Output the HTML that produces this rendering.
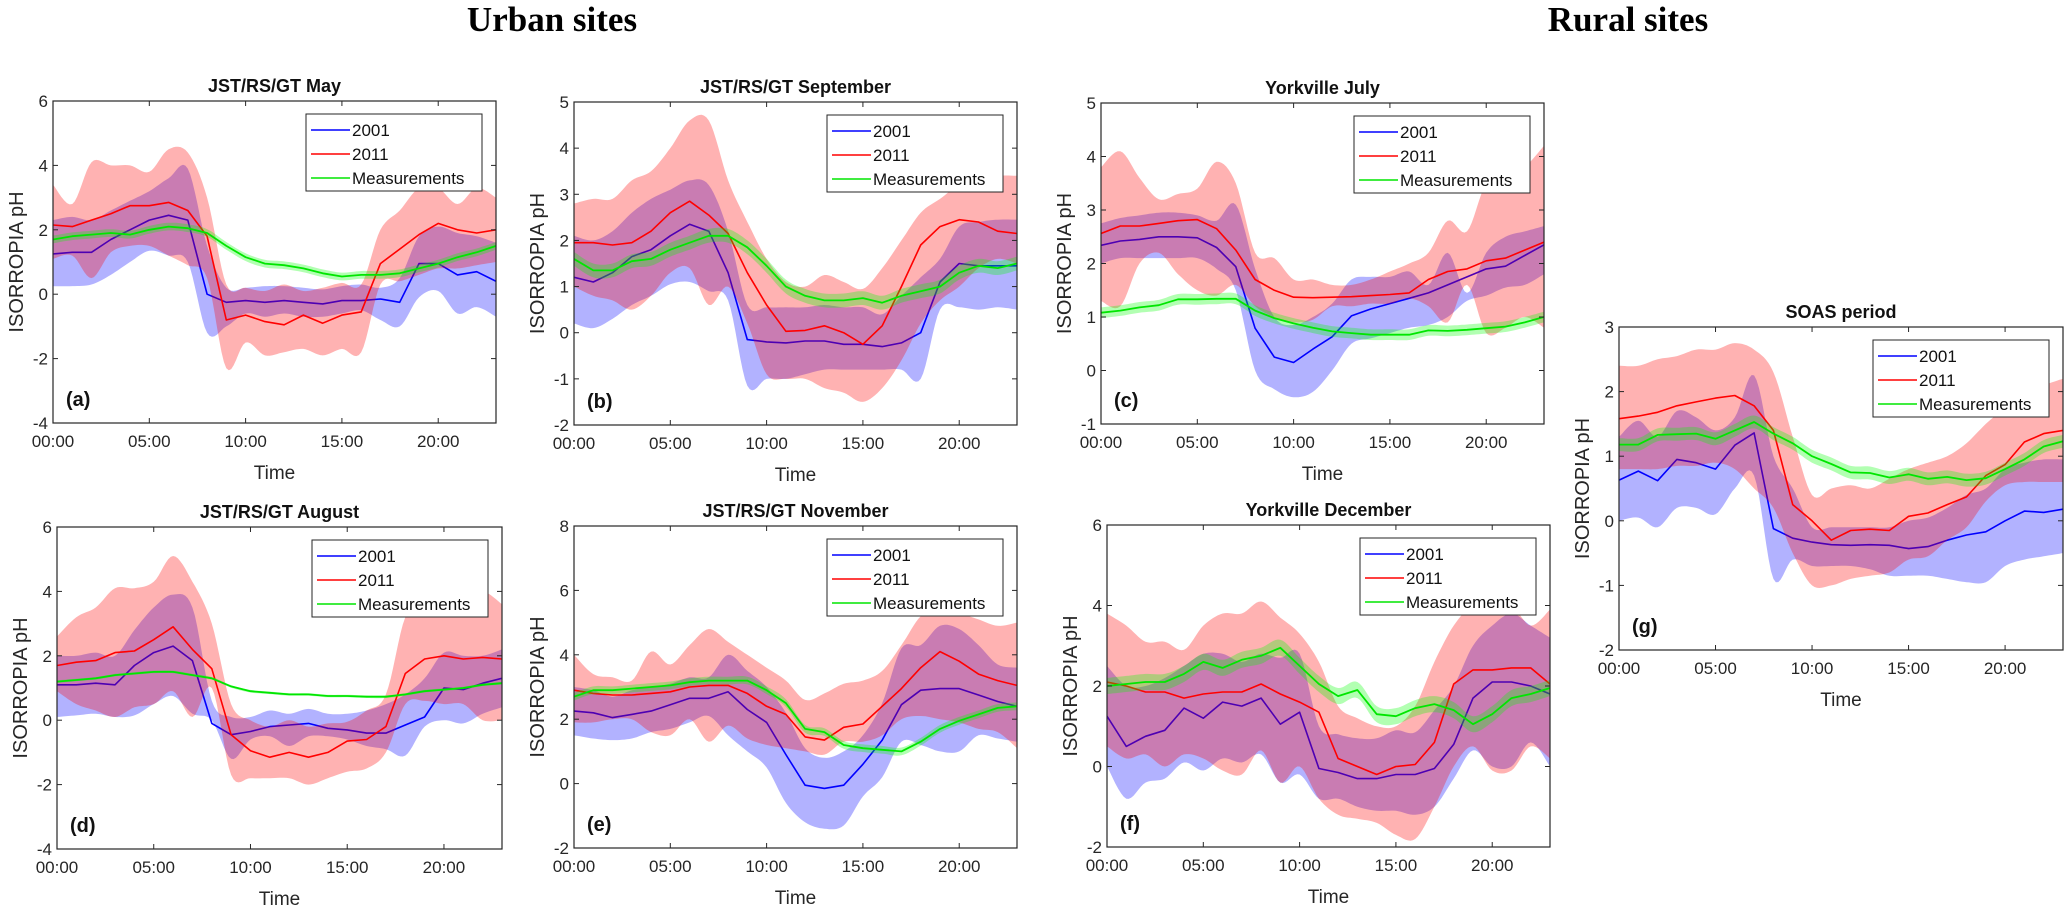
<!DOCTYPE html>
<html><head><meta charset="utf-8">
<style>
html,body{margin:0;padding:0;background:#fff;}
svg{display:block;font-family:"Liberation Sans",Arial,sans-serif;}
</style></head>
<body>
<svg id="fig" width="2067" height="906" viewBox="0 0 2067 906" xmlns="http://www.w3.org/2000/svg">
<text x="552" y="31" text-anchor="middle" font-family="Liberation Serif, serif" font-weight="bold" font-size="35">Urban sites</text>
<text x="1628" y="31" text-anchor="middle" font-family="Liberation Serif, serif" font-weight="bold" font-size="35">Rural sites</text>
</svg>
<script>
const hours = [0,1,2,3,4,5,6,7,8,9,10,11,12,13,14,15,16,17,18,19,20,21,22,23];
const xTickLabels = ["00:00","05:00","10:00","15:00","20:00"];
const xTickHours = [0,5,10,15,20];

// (a) JST/RS/GT May
const a_m01 = [1.25,1.3,1.3,1.7,2.0,2.3,2.45,2.3,0.0,-0.25,-0.2,-0.25,-0.2,-0.25,-0.3,-0.2,-0.2,-0.15,-0.25,0.95,0.95,0.6,0.7,0.4];
const a_m11 = [2.15,2.1,2.3,2.5,2.75,2.75,2.85,2.6,1.8,-0.8,-0.65,-0.85,-0.95,-0.65,-0.9,-0.65,-0.55,0.95,1.4,1.85,2.2,2.0,1.9,2.0];
const a_meas = [1.7,1.8,1.85,1.9,1.85,2.0,2.1,2.05,1.9,1.5,1.15,0.95,0.9,0.8,0.65,0.55,0.6,0.6,0.65,0.8,0.95,1.15,1.3,1.5];
const a_hi01 = [2.3,2.4,2.3,2.6,2.9,3.2,3.6,3.9,1.5,0.2,0.2,0.25,0.25,0.2,0.15,0.25,0.3,0.2,0.5,1.8,2.1,1.9,1.8,1.6];
const a_lo01 = [0.25,0.25,0.3,0.6,1.0,1.35,1.2,1.0,-1.2,-1.0,-0.6,-0.7,-0.6,-0.7,-0.7,-0.6,-0.5,-0.8,-1.0,-0.1,0.1,-0.6,-0.4,-0.7];
const a_hi11 = [3.4,2.8,4.1,4.0,4.0,3.8,4.5,4.4,3.0,0.3,0.2,0.1,0.3,0.1,0.2,0.35,0.3,2.0,2.6,3.3,3.3,2.8,3.3,3.0];
const a_lo11 = [1.1,1.2,0.5,1.3,1.5,1.5,1.2,0.9,0.5,-2.3,-1.5,-1.9,-1.8,-1.7,-1.9,-1.7,-1.8,0.3,0.4,0.6,0.8,0.8,0.9,1.0];
const a_yTicks = [-4,-2,0,2,4,6];

// (b) JST/RS/GT September
const b_m01 = [1.2,1.1,1.3,1.65,1.8,2.1,2.35,2.2,1.3,-0.15,-0.2,-0.22,-0.18,-0.18,-0.25,-0.25,-0.3,-0.22,0.0,1.1,1.5,1.45,1.45,1.45];
const b_m11 = [1.95,1.95,1.9,1.95,2.2,2.6,2.85,2.55,2.15,1.3,0.6,0.03,0.05,0.15,0.0,-0.25,0.15,1.0,1.9,2.3,2.45,2.4,2.2,2.15];
const b_meas = [1.6,1.35,1.35,1.55,1.6,1.8,1.95,2.1,2.1,1.85,1.45,1.0,0.8,0.7,0.7,0.75,0.65,0.8,0.9,1.0,1.3,1.45,1.4,1.5];
const b_hi01 = [2.1,2.0,2.2,2.6,2.9,3.1,3.3,3.2,2.2,0.6,0.55,0.55,0.55,0.6,0.55,0.55,0.4,0.8,1.2,1.6,2.3,2.4,2.45,2.45];
const b_lo01 = [0.2,0.1,0.3,0.6,0.8,1.05,1.1,0.9,0.7,-1.15,-1.0,-1.0,-0.9,-0.8,-0.8,-0.8,-0.8,-0.8,-1.0,0.5,0.55,0.5,0.55,0.5];
const b_hi11 = [2.8,2.9,2.9,3.3,3.5,4.0,4.6,4.6,3.3,2.4,1.6,1.1,1.0,1.25,1.1,0.95,1.4,2.0,2.6,2.9,3.2,3.3,3.4,3.4];
const b_lo11 = [1.0,0.8,0.7,0.5,0.8,1.3,1.4,0.6,1.0,0.2,-0.9,-1.0,-1.0,-1.2,-1.3,-1.5,-1.2,-0.6,0.2,0.7,1.0,1.4,1.6,1.5];
const b_yTicks = [-2,-1,0,1,2,3,4,5];

// (c) Yorkville July
const c_m01 = [2.34,2.42,2.45,2.5,2.5,2.48,2.3,1.94,0.79,0.25,0.15,0.4,0.63,1.02,1.15,1.25,1.35,1.45,1.6,1.75,1.9,1.95,2.15,2.35];
const c_m11 = [2.56,2.7,2.7,2.75,2.8,2.82,2.65,2.25,1.7,1.5,1.37,1.36,1.37,1.38,1.4,1.42,1.45,1.7,1.85,1.9,2.05,2.1,2.25,2.4];
const c_meas = [1.08,1.12,1.18,1.22,1.33,1.33,1.34,1.34,1.12,0.98,0.88,0.8,0.73,0.7,0.67,0.67,0.67,0.75,0.74,0.76,0.79,0.82,0.9,1.0];
const c_hi01 = [2.75,2.85,2.9,2.95,2.95,2.9,2.8,3.1,1.9,1.0,0.85,1.0,1.25,1.7,1.75,1.75,1.85,1.6,2.2,1.45,2.2,2.5,2.6,2.7];
const c_lo01 = [2.0,2.1,2.1,2.1,2.1,2.1,1.9,1.5,0.0,-0.35,-0.5,-0.4,0.0,0.5,0.6,0.7,0.8,0.85,1.0,1.3,1.4,1.55,1.6,1.8];
const c_hi11 = [3.8,4.1,3.6,3.2,3.3,3.4,3.9,3.5,2.2,2.1,1.7,1.7,1.6,1.6,1.7,1.85,2.0,2.2,2.8,2.6,3.5,3.6,3.8,4.2];
const c_lo11 = [1.3,1.2,2.0,2.2,1.8,1.5,1.4,1.6,1.2,1.0,0.9,0.95,1.2,1.2,1.25,1.25,1.35,1.2,0.9,1.6,0.7,0.8,1.0,0.8];
const c_yTicks = [-1,0,1,2,3,4,5];

// (d) JST/RS/GT August
const d_m01 = [1.1,1.1,1.15,1.1,1.7,2.1,2.3,1.85,-0.1,-0.45,-0.35,-0.2,-0.15,-0.1,-0.25,-0.3,-0.4,-0.4,-0.15,0.1,1.0,0.95,1.15,1.3];
const d_m11 = [1.7,1.8,1.85,2.1,2.15,2.5,2.9,2.2,1.6,-0.45,-0.95,-1.15,-1.0,-1.15,-1.0,-0.65,-0.6,-0.2,1.45,1.9,2.0,1.9,1.95,1.9];
const d_meas = [1.2,1.25,1.3,1.4,1.45,1.5,1.5,1.4,1.3,1.05,0.9,0.85,0.8,0.8,0.75,0.75,0.73,0.73,0.8,0.9,0.95,1.0,1.1,1.15];
const d_hi01 = [2.0,2.0,2.1,2.0,2.8,3.5,3.9,3.5,0.6,0.1,0.1,0.3,0.2,0.35,0.2,0.2,0.3,0.5,0.8,1.3,2.1,2.0,2.0,2.2];
const d_lo01 = [0.1,0.15,0.2,0.1,0.15,0.5,0.75,0.2,0.0,-1.2,-0.6,-0.5,-0.8,-0.5,-0.5,-0.6,-0.8,-0.9,-1.1,-0.2,0.0,-0.1,0.2,0.4];
const d_hi11 = [2.6,3.2,3.5,4.1,4.1,4.3,5.1,4.3,3.0,0.5,0.0,-0.2,0.0,-0.2,-0.1,-0.05,0.3,0.8,3.2,3.8,3.9,3.7,4.0,3.6];
const d_lo11 = [0.9,0.5,0.3,0.1,0.4,0.5,0.9,0.1,1.0,-1.7,-1.8,-1.8,-1.8,-2.0,-1.8,-1.6,-1.5,-1.0,0.5,0.6,0.5,0.5,0.0,0.0];
const d_yTicks = [-4,-2,0,2,4,6];

// (e) JST/RS/GT November
const e_m01 = [2.25,2.2,2.05,2.15,2.25,2.45,2.65,2.65,2.85,2.3,1.9,0.9,-0.05,-0.15,-0.05,0.6,1.35,2.45,2.9,2.95,2.95,2.75,2.55,2.4];
const e_m11 = [2.9,2.8,2.75,2.75,2.8,2.85,3.0,3.05,3.05,2.8,2.4,2.15,1.45,1.35,1.75,1.85,2.4,2.95,3.6,4.1,3.8,3.4,3.2,3.05];
const e_meas = [2.7,2.9,2.9,2.95,3.0,3.05,3.15,3.2,3.2,3.2,2.9,2.5,1.7,1.6,1.2,1.1,1.05,1.0,1.3,1.7,1.95,2.15,2.35,2.4];
const e_hi01 = [3.0,2.9,2.7,2.9,3.0,3.1,3.3,3.3,4.0,3.5,3.0,2.2,1.1,0.8,1.0,1.5,2.5,4.2,4.3,4.9,4.8,4.3,3.7,3.6];
const e_lo01 = [1.5,1.4,1.35,1.4,1.6,1.7,1.9,2.1,1.5,1.0,0.5,-0.6,-1.2,-1.4,-1.3,-0.4,0.2,1.3,1.2,1.0,1.0,1.5,1.4,1.3];
const e_hi11 = [4.0,3.4,3.3,3.2,4.1,3.7,4.3,4.8,4.4,4.0,3.6,3.2,2.6,2.8,3.1,3.2,3.5,4.3,5.2,5.5,5.3,5.1,4.9,5.0];
const e_lo11 = [1.9,1.9,2.0,2.0,1.6,1.5,2.0,1.3,1.8,1.4,1.2,1.1,1.0,0.9,1.3,1.3,1.5,2.0,2.1,2.0,1.9,1.7,1.6,1.1];
const e_yTicks = [-2,0,2,4,6,8];

// (f) Yorkville December
const f_m01 = [1.25,0.5,0.75,0.9,1.45,1.2,1.6,1.5,1.7,1.05,1.35,-0.05,-0.15,-0.3,-0.3,-0.2,-0.2,-0.05,0.55,1.7,2.1,2.1,2.0,1.8];
const f_m11 = [2.1,2.0,1.85,1.85,1.7,1.8,1.85,1.85,2.05,1.8,1.6,1.35,0.2,0.0,-0.2,0.0,0.05,0.6,2.05,2.4,2.4,2.45,2.45,2.05];
const f_meas = [2.0,2.05,2.1,2.1,2.3,2.6,2.45,2.65,2.75,2.95,2.5,2.05,1.75,1.9,1.3,1.25,1.45,1.55,1.4,1.05,1.3,1.7,1.8,1.95];
const f_hi01 = [2.5,2.0,2.0,2.2,2.5,2.8,2.8,2.6,2.8,2.7,2.8,1.0,0.8,0.7,0.7,0.9,0.85,1.4,2.0,3.0,3.5,3.8,3.5,3.2];
const f_lo01 = [0.0,-0.8,-0.4,-0.3,0.1,-0.1,0.2,0.1,0.3,-0.4,-0.2,-0.8,-0.8,-1.0,-1.1,-1.1,-1.2,-1.0,-0.3,0.4,0.0,0.0,0.6,0.0];
const f_hi11 = [3.8,3.5,3.1,3.1,2.9,3.5,3.8,3.8,4.1,3.7,3.3,2.6,1.5,1.2,1.0,1.0,1.5,2.6,3.5,4.0,4.0,4.0,3.5,3.9];
const f_lo11 = [0.5,0.2,0.3,0.0,0.3,0.2,-0.1,-0.2,0.4,-0.4,0.0,-0.8,-1.2,-1.3,-1.4,-1.7,-1.8,-1.0,0.0,0.5,-0.1,-0.1,0.5,0.2];
const f_yTicks = [-2,0,2,4,6];

// (g) SOAS period
const g_m01 = [0.63,0.77,0.62,0.95,0.9,0.8,1.17,1.36,-0.12,-0.27,-0.33,-0.37,-0.38,-0.37,-0.38,-0.43,-0.4,-0.3,-0.22,-0.17,0.0,0.15,0.13,0.18];
const g_m11 = [1.58,1.62,1.68,1.78,1.84,1.9,1.94,1.78,1.4,0.25,0.0,-0.3,-0.15,-0.13,-0.15,0.07,0.12,0.25,0.37,0.7,0.87,1.22,1.35,1.4];
const g_meas = [1.18,1.18,1.33,1.34,1.35,1.27,1.4,1.53,1.35,1.2,1.0,0.88,0.75,0.74,0.67,0.72,0.65,0.68,0.63,0.66,0.8,0.95,1.15,1.23];
const g_hi01 = [1.3,1.55,1.3,1.7,1.6,1.4,1.6,2.25,1.0,0.5,-0.1,-0.1,-0.1,-0.1,-0.1,0.0,0.05,0.2,0.4,0.5,0.8,0.9,0.95,0.95];
const g_lo01 = [0.0,0.05,-0.1,0.2,0.2,0.1,0.5,0.7,-0.9,-0.6,-0.7,-0.7,-0.7,-0.75,-0.85,-0.85,-0.85,-0.9,-0.95,-0.95,-0.7,-0.6,-0.55,-0.5];
const g_hi11 = [2.4,2.4,2.5,2.55,2.65,2.65,2.75,2.65,2.3,1.3,0.4,0.5,0.55,0.5,0.65,0.8,0.9,1.0,1.2,1.5,1.75,2.0,2.1,2.2];
const g_lo11 = [0.8,0.8,0.8,0.85,0.85,0.9,0.8,0.5,0.2,-0.5,-1.0,-1.0,-0.9,-0.85,-0.8,-0.6,-0.55,-0.3,-0.1,0.3,0.55,0.6,0.6,0.6];
const g_yTicks = [-2,-1,0,1,2,3];

const measSpread = {a:0.12,b:0.15,c:0.1,d:0.04,e:0.12,f:0.2,g:0.1};

const panels = [
 {id:'a',title:'JST/RS/GT May',box:[53,496,101,423],ymin:-4,ymax:6,ticks:a_yTicks,m01:a_m01,m11:a_m11,meas:a_meas,hi01:a_hi01,lo01:a_lo01,hi11:a_hi11,lo11:a_lo11},
 {id:'b',title:'JST/RS/GT September',box:[574,1017,102,425],ymin:-2,ymax:5,ticks:b_yTicks,m01:b_m01,m11:b_m11,meas:b_meas,hi01:b_hi01,lo01:b_lo01,hi11:b_hi11,lo11:b_lo11},
 {id:'c',title:'Yorkville July',box:[1101,1544,103,424],ymin:-1,ymax:5,ticks:c_yTicks,m01:c_m01,m11:c_m11,meas:c_meas,hi01:c_hi01,lo01:c_lo01,hi11:c_hi11,lo11:c_lo11},
 {id:'d',title:'JST/RS/GT August',box:[57,502,527,849],ymin:-4,ymax:6,ticks:d_yTicks,m01:d_m01,m11:d_m11,meas:d_meas,hi01:d_hi01,lo01:d_lo01,hi11:d_hi11,lo11:d_lo11},
 {id:'e',title:'JST/RS/GT November',box:[574,1017,526,848],ymin:-2,ymax:8,ticks:e_yTicks,m01:e_m01,m11:e_m11,meas:e_meas,hi01:e_hi01,lo01:e_lo01,hi11:e_hi11,lo11:e_lo11},
 {id:'f',title:'Yorkville December',box:[1107,1550,525,847],ymin:-2,ymax:6,ticks:f_yTicks,m01:f_m01,m11:f_m11,meas:f_meas,hi01:f_hi01,lo01:f_lo01,hi11:f_hi11,lo11:f_lo11},
 {id:'g',title:'SOAS period',box:[1619,2063,327,650],ymin:-2,ymax:3,ticks:g_yTicks,m01:g_m01,m11:g_m11,meas:g_meas,hi01:g_hi01,lo01:g_lo01,hi11:g_hi11,lo11:g_lo11}
];

const NS='http://www.w3.org/2000/svg';
const svg=document.getElementById('fig');
function mk(tag,attrs,parent){const e=document.createElementNS(NS,tag);for(const k in attrs)e.setAttribute(k,attrs[k]);(parent||svg).appendChild(e);return e;}

function smoothPts(xs,ys){
  const out=[];const n=xs.length;
  for(let i=0;i<n-1;i++){
    const p0=[xs[Math.max(i-1,0)],ys[Math.max(i-1,0)]],p1=[xs[i],ys[i]],p2=[xs[i+1],ys[i+1]],p3=[xs[Math.min(i+2,n-1)],ys[Math.min(i+2,n-1)]];
    for(let s=0;s<8;s++){const t=s/8,t2=t*t,t3=t2*t;
      const f=(a,b,c,d)=>0.5*((2*b)+(-a+c)*t+(2*a-5*b+4*c-d)*t2+(-a+3*b-3*c+d)*t3);
      out.push([f(p0[0],p1[0],p2[0],p3[0]),f(p0[1],p1[1],p2[1],p3[1])]);}
  }
  out.push([xs[n-1],ys[n-1]]);return out;
}

panels.forEach(p=>{
  const [L,R,T,B]=p.box;
  const X=h=>L+(R-L)*h/23;
  const Y=v=>B-(B-T)*(v-p.ymin)/(p.ymax-p.ymin);
  const g=mk('g',{});
  
  
  const cid='clip'+p.id;
  const cp=mk('clipPath',{id:cid},g);mk('rect',{x:L,y:T,width:R-L,height:B-T},cp);
  const plot=mk('g',{'clip-path':'url(#'+cid+')'},g);

  function band(hi,lo,color,op,name){
    const xs=hours.map(X);
    const up=smoothPts(xs,hi.map(Y)),dn=smoothPts(xs,lo.map(Y)).reverse();
    const d='M'+up.concat(dn).map(q=>q[0].toFixed(1)+','+q[1].toFixed(1)).join('L')+'Z';
    const e=mk('path',{d:d,fill:color,'fill-opacity':op,stroke:'none'},plot);
    
    
  }
  function line(vals,color,w,name){
    const d='M'+hours.map(h=>X(h).toFixed(1)+','+Y(vals[h]).toFixed(1)).join('L');
    const e=mk('path',{d:d,fill:'none',stroke:color,'stroke-width':w,'stroke-linejoin':'round'},plot);
    
    
  }
  const sp=measSpread[p.id];
  band(p.hi01,p.lo01,'#0000ff',0.3,'band-2001');
  line(p.m01,'#0000ff',1.6,'line-2001');
  band(p.hi11,p.lo11,'#ff0000',0.3,'band-2011');
  line(p.m11,'#ff0000',1.6,'line-2011');
  band(p.meas.map(v=>v+sp),p.meas.map(v=>v-sp),'#00ff00',0.3,'band-measurements');
  line(p.meas,'#00e600',1.8,'line-measurements');

  const box=mk('rect',{x:L,y:T,width:R-L,height:B-T,fill:'none',stroke:'#262626','stroke-width':1.2},g);
  
  
  p.ticks.forEach(v=>{
    const y=Y(v);
    mk('line',{x1:L,x2:L+5,y1:y,y2:y,stroke:'#262626','stroke-width':1},g);
    mk('line',{x1:R,x2:R-5,y1:y,y2:y,stroke:'#262626','stroke-width':1},g);
    const t=mk('text',{x:L-5,y:y+6,'text-anchor':'end','font-size':17,fill:'#262626'},g);
    t.textContent=String(v);
    
    
  });
  xTickHours.forEach((h,i)=>{
    const x=X(h);
    mk('line',{x1:x,x2:x,y1:B,y2:B-5,stroke:'#262626','stroke-width':1},g);
    mk('line',{x1:x,x2:x,y1:T,y2:T+5,stroke:'#262626','stroke-width':1},g);
    const t=mk('text',{x:x,y:B+24,'text-anchor':'middle','font-size':17,fill:'#262626'},g);
    t.textContent=xTickLabels[i];
    
    
  });
  const xt=mk('text',{x:(L+R)/2,y:B+56,'text-anchor':'middle','font-size':19,fill:'#262626'},g);
  xt.textContent='Time';
  
  
  const cy=(T+B)/2,cx=L-30;
  const yt=mk('text',{x:cx,y:cy,'text-anchor':'middle','font-size':20,fill:'#262626',transform:'rotate(-90 '+cx+' '+cy+')'},g);
  yt.textContent='ISORROPIA pH';
  
  
  const tt=mk('text',{x:(L+R)/2,y:T-9,'text-anchor':'middle','font-size':18,'font-weight':'bold',fill:'#111'},g);
  tt.textContent=p.title;
  
  
  const pl=mk('text',{x:L+13,y:B-17,'font-size':20,'font-weight':'bold',fill:'#111'},g);
  pl.textContent='('+p.id+')';
  
  

  const lx=R-190,ly=T+13;
  const lg=mk('g',{},g);
  
  
  mk('rect',{x:lx,y:ly,width:176,height:77,fill:'#fff',stroke:'#262626','stroke-width':1},lg);
  [['2001','#0000ff'],['2011','#ff0000'],['Measurements','#00e600']].forEach((it,i)=>{
    const yy=ly+16+i*24;
    const le=mk('g',{},lg);
    
    
    mk('line',{x1:lx+5,x2:lx+44,y1:yy,y2:yy,stroke:it[1],'stroke-width':1.6},le);
    const t=mk('text',{x:lx+46,y:yy+6,'font-size':17,fill:'#111'},le);
    t.textContent=it[0];
  });
});
</script>
</body></html>
